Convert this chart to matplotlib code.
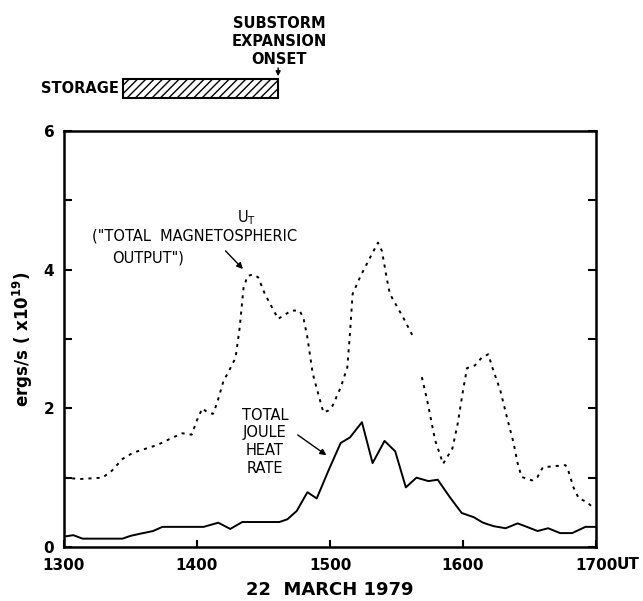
import matplotlib
matplotlib.use("Agg")
import matplotlib.pyplot as plt
from matplotlib.patches import Rectangle

plt.rcParams['font.family'] = ['DejaVu Sans']
plt.rcParams['hatch.linewidth'] = 1.0

# U_T ("total magnetospheric output"), two segments separated by a data gap
ut_time_a = [1300, 1312, 1329, 1336, 1344, 1352, 1370, 1382, 1389, 1396, 1400,
             1404, 1408, 1412, 1415, 1420, 1423, 1429, 1432, 1435, 1438, 1442,
             1446, 1451, 1461, 1471, 1477, 1480, 1483, 1487, 1491, 1495, 1499,
             1502, 1508, 1513, 1515, 1517, 1523, 1530, 1536, 1539, 1543, 1545,
             1555, 1562]
ut_vals_a = [1.00, 0.98, 1.00, 1.10, 1.27, 1.36, 1.47, 1.58, 1.64, 1.62, 1.83,
             2.00, 1.94, 1.92, 2.07, 2.40, 2.50, 2.73, 3.15, 3.74, 3.91, 3.93,
             3.89, 3.65, 3.29, 3.41, 3.41, 3.31, 3.02, 2.50, 2.22, 1.94, 1.97,
             2.04, 2.30, 2.59, 3.08, 3.65, 3.91, 4.17, 4.39, 4.27, 3.84, 3.65,
             3.31, 3.05]
ut_time_b = [1569, 1573, 1579, 1585, 1592, 1596, 1600, 1603, 1609, 1614, 1619,
             1622, 1628, 1633, 1638, 1641, 1644, 1652, 1656, 1660, 1677, 1679,
             1683, 1687, 1693, 1697]
ut_vals_b = [2.45, 2.12, 1.54, 1.20, 1.42, 1.78, 2.26, 2.58, 2.62, 2.73, 2.78,
             2.59, 2.26, 1.87, 1.50, 1.21, 1.01, 0.96, 1.01, 1.15, 1.18, 1.11,
             0.86, 0.70, 0.65, 0.58]

# Total Joule heat rate
joule_time = [1300, 1307, 1314, 1344, 1350, 1357, 1367, 1374, 1405, 1416, 1425,
              1434, 1462, 1468, 1475, 1483, 1490, 1499, 1508, 1515, 1524, 1532,
              1541, 1549, 1557, 1565, 1574, 1581, 1590, 1599, 1608, 1615, 1623,
              1632, 1641, 1648, 1656, 1664, 1673, 1682, 1692, 1700]
joule_vals = [0.15, 0.17, 0.12, 0.12, 0.16, 0.19, 0.23, 0.29, 0.29, 0.35, 0.26,
              0.36, 0.36, 0.40, 0.52, 0.79, 0.70, 1.11, 1.50, 1.58, 1.80, 1.21,
              1.53, 1.38, 0.86, 1.00, 0.95, 0.97, 0.72, 0.49, 0.43, 0.35, 0.30,
              0.27, 0.34, 0.29, 0.23, 0.27, 0.20, 0.20, 0.29, 0.29]

x_ticks = [1300, 1400, 1500, 1600, 1700]
x_tick_labels = ['1300', '1400', '1500', '1600', '1700']
y_ticks = [0, 2, 4, 6]
storage_start, storage_end = 1344, 1461

fig = plt.figure(figsize=(6.43, 6.01), dpi=100)
ax = fig.add_axes([0.0995, 0.0899, 0.8275, 0.6921])

dot = (0, (1.6, 2.6))
ax.plot(ut_time_a, ut_vals_a, color='black', lw=1.4, linestyle=dot)
ax.plot(ut_time_b, ut_vals_b, color='black', lw=1.4, linestyle=dot)
ax.plot(joule_time, joule_vals, color='black', lw=1.4)

ax.set_xlim(1300, 1700)
ax.set_ylim(0, 6)
for s in ax.spines.values():
    s.set_linewidth(1.8)

ax.set_xticks(x_ticks)
ax.set_xticklabels(x_tick_labels, fontsize=11, fontweight='bold')
ax.set_yticks(y_ticks)
ax.set_yticklabels([str(v) for v in y_ticks], fontsize=11, fontweight='bold')
ax.set_yticks([1, 3, 5], minor=True)
ax.tick_params(axis='x', direction='in', length=5, width=1.5, pad=8)
ax.tick_params(axis='y', which='both', direction='in', length=6, width=1.5,
               pad=7, right=True)

ax.annotate('UT', xy=(1700, 0), xycoords='data', xytext=(15, -7.2),
            textcoords='offset points', ha='left', va='top',
            fontsize=11, fontweight='bold')

ax.set_xlabel('22  MARCH 1979', fontsize=13, fontweight='bold', labelpad=6)
ax.set_ylabel('ergs/s ( x10$^{\\mathbf{19}}$)', fontsize=12, fontweight='bold',
              labelpad=6)

# curve labels
ax.text(1437, 4.75, 'U$_\\mathrm{T}$', fontsize=10.5, ha='center', va='center')
ax.text(1398, 4.49, '("TOTAL  MAGNETOSPHERIC', fontsize=10.5, ha='center',
        va='center')
ax.text(1336, 4.17, 'OUTPUT")', fontsize=10.5, ha='left', va='center')
ax.annotate('', xy=(1436, 3.98), xytext=(1420, 4.3),
            arrowprops=dict(arrowstyle='-|>', color='black', lw=1.0,
                            mutation_scale=9))

for i, line in enumerate(['TOTAL', 'JOULE', 'HEAT', 'RATE']):
    ax.text(1451, 1.90 - i * 0.255, line, fontsize=10.5, ha='center',
            va='center')
ax.annotate('', xy=(1499, 1.30), xytext=(1474, 1.64),
            arrowprops=dict(arrowstyle='-|>', color='black', lw=1.0,
                            mutation_scale=9))

# storage interval and substorm expansion onset above the axes
ytop = 6.0
ax.add_patch(Rectangle((storage_start, ytop + 0.48), storage_end - storage_start,
                       0.27, facecolor='white', edgecolor='black', lw=1.5,
                       hatch='////', clip_on=False))
ax.text(storage_start - 3, ytop + 0.615, 'STORAGE', fontsize=10.5,
        fontweight='bold', ha='right', va='center', clip_on=False)
ax.annotate('', xy=(storage_end, ytop + 0.75), xytext=(storage_end, ytop + 0.95),
            arrowprops=dict(arrowstyle='-|>', color='black', lw=1.0,
                            mutation_scale=7), annotation_clip=False)
for i, line in enumerate(['SUBSTORM', 'EXPANSION', 'ONSET']):
    ax.text(storage_end + 1, ytop + 1.55 - i * 0.26, line, fontsize=10.5,
            fontweight='bold', ha='center', va='center', clip_on=False)

fig.savefig('out.png', dpi=100)
